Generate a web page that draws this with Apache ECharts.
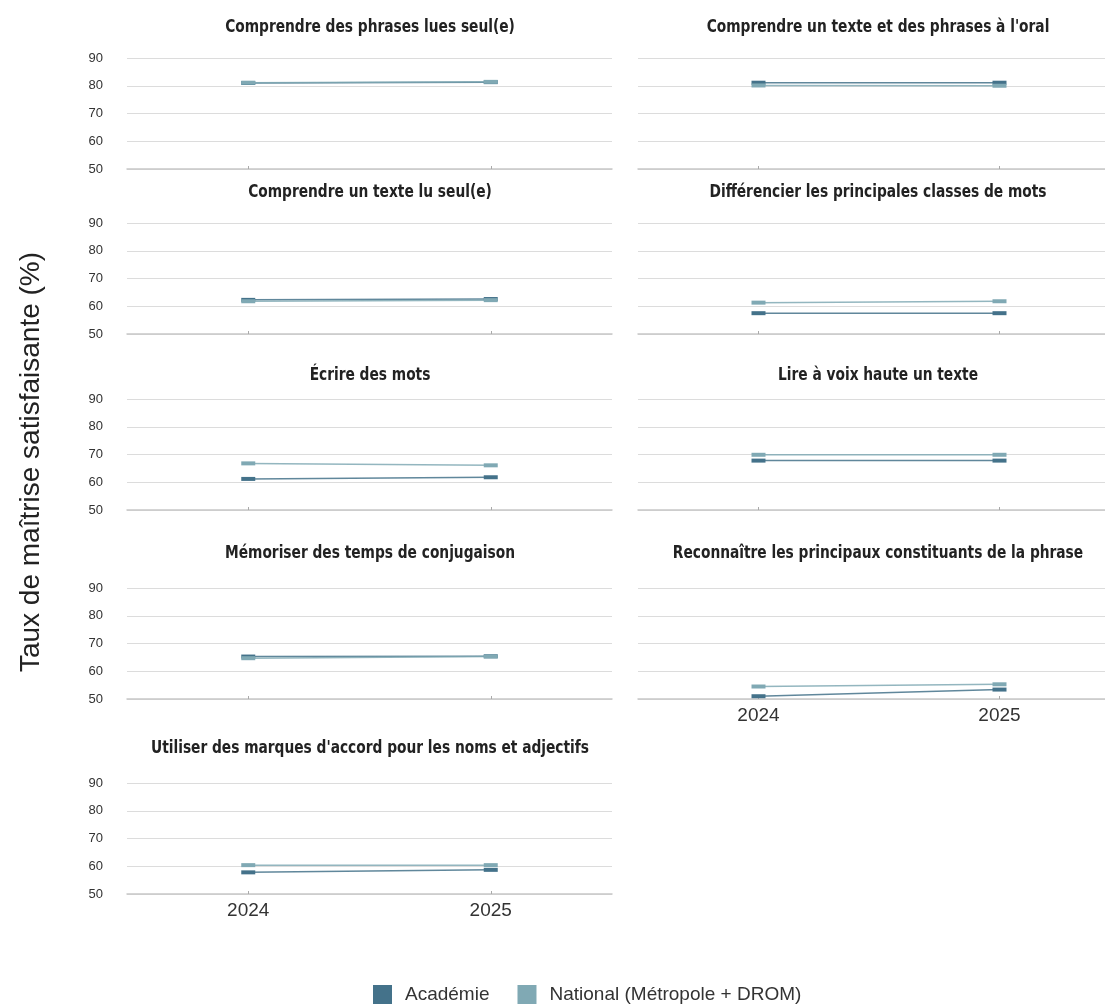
<!DOCTYPE html>
<html>
<head>
<meta charset="utf-8">
<script src="https://cdn.jsdelivr.net/npm/echarts@6/dist/echarts.min.js"></script>
<style>
html,body{margin:0;padding:0;background:#fff;}
#chart{width:1105px;height:1006px;}
</style>
</head>
<body>
<div id="chart"></div>
<script>
const years = ['2024', '2025'];
const panelTitles = [
  'Comprendre des phrases lues seul(e)',
  "Comprendre un texte et des phrases à l'oral",
  'Comprendre un texte lu seul(e)',
  'Différencier les principales classes de mots',
  'Écrire des mots',
  'Lire à voix haute un texte',
  'Mémoriser des temps de conjugaison',
  'Reconnaître les principaux constituants de la phrase',
  "Utiliser des marques d'accord pour les noms et adjectifs"
];
const academie = [
  [81.0, 81.3],
  [81.1, 81.1],
  [62.3, 62.6],
  [57.5, 57.5],
  [61.2, 61.8],
  [67.8, 67.8],
  [65.3, 65.4],
  [51.0, 53.4],
  [57.8, 58.7]
];
const national = [
  [81.1, 81.4],
  [80.1, 80.0],
  [61.8, 62.2],
  [61.3, 61.8],
  [66.8, 66.1],
  [69.9, 69.9],
  [64.7, 65.3],
  [54.5, 55.3],
  [60.4, 60.4]
];
const yTicks = [50, 60, 70, 80, 90];
const seriesNames = ['Académie', 'National (Métropole + DROM)'];
const yAxisTitle = 'Taux de maîtrise satisfaisante (%)';

const colors = ['#44728a', '#80a9b4'];
const rowTops = [58, 223, 399, 588, 783];
const titleCenters = [28, 193, 376, 554, 749];
const colLeft = [127, 638];
const colWidth = [485, 482];
const colTitleX = [370, 878];
const gridH = 111;

const grids = [], xAxes = [], yAxes = [], series = [], graphics = [];
panelTitles.forEach((t, i) => {
  const row = Math.floor(i / 2), col = i % 2;
  const showX = (i === 8 || i === 7);
  grids.push({left: colLeft[col], top: rowTops[row], width: colWidth[col], height: gridH, outerBoundsMode: 'none', containLabel: false});
  graphics.push({
    type: 'text', x: colTitleX[col], y: titleCenters[row], scaleX: 0.9, silent: true,
    style: {text: t, align: 'center', verticalAlign: 'middle',
      font: 'bold 17px "DejaVu Sans Condensed", "DejaVu Sans", sans-serif', fill: '#222'}
  });
  xAxes.push({
    type: 'category', gridIndex: i, data: years, boundaryGap: true,
    axisLine: {show: true, lineStyle: {color: '#c8c8c8', width: 1.5}},
    axisTick: {show: true, alignWithLabel: true, inside: true, length: 3, lineStyle: {color: '#aaa'}},
    axisLabel: {show: showX, fontSize: 19, color: '#333', margin: 7, fontFamily: '"Liberation Sans",Arial,sans-serif'},
    splitLine: {show: false}
  });
  yAxes.push({
    type: 'value', gridIndex: i, min: yTicks[0], max: yTicks[yTicks.length - 1], interval: 10,
    axisLine: {show: false}, axisTick: {show: false},
    axisLabel: {show: col === 0, fontSize: 13, color: '#333', margin: 24, fontFamily: '"Liberation Sans",Arial,sans-serif'},
    splitLine: {show: true, lineStyle: {color: '#dcdcdc', width: 1}}
  });
  [academie, national].forEach((arr, s) => {
    series.push({
      name: seriesNames[s], type: 'line', xAxisIndex: i, yAxisIndex: i,
      data: arr[i], symbol: 'rect', symbolSize: [14, 4],
      itemStyle: {color: colors[s]},
      lineStyle: {color: colors[s], width: 1.5, opacity: 0.85},
      silent: true, animation: false, z: 2 + s
    });
  });
});

graphics.push({
  type: 'text', x: 31, y: 462, rotation: Math.PI / 2, silent: true,
  style: {text: yAxisTitle, align: 'center', verticalAlign: 'middle',
    font: '28px "Liberation Sans", Arial, sans-serif', fill: '#222'}
});

const chart = echarts.init(document.getElementById('chart'));
chart.setOption({
  animation: false,
  grid: grids,
  xAxis: xAxes,
  yAxis: yAxes,
  series: series,
  legend: {
    data: seriesNames.map((n, s) => ({name: n, itemStyle: {color: colors[s]}})),
    left: 373, top: 985, padding: 0, icon: 'rect', itemWidth: 19, itemHeight: 19, itemGap: 28,
    textStyle: {fontSize: 19, color: '#333', fontFamily: '"Liberation Sans",Arial,sans-serif', padding: [0, 0, 0, 8]}
  },
  graphic: graphics
});
</script>
</body>
</html>
